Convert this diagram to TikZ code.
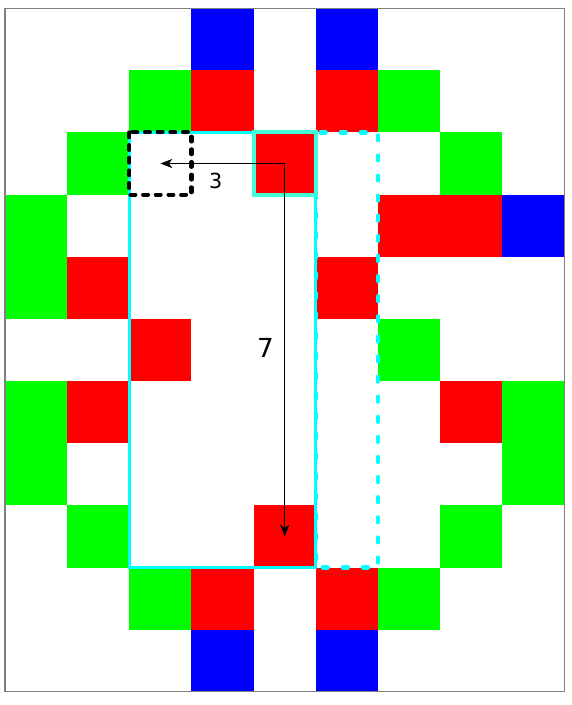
\documentclass[tikz,border=0pt]{standalone}
\usepackage{fontspec}
\setmainfont{DejaVu Sans}
\usetikzlibrary{arrows.meta}
\definecolor{cellred}{RGB}{255,0,0}
\definecolor{cellgreen}{RGB}{0,255,0}
\definecolor{cellblue}{RGB}{0,0,255}
\definecolor{boxcyan}{RGB}{0,255,255}
\definecolor{boxturq}{RGB}{64,255,216}
\tikzset{
  cellfill/.style={fill=#1},
  wincyan/.style={draw=boxcyan, line width=1.4pt},
  winspare/.style={draw=boxcyan, line width=2pt, line cap=round, dash pattern=on 2.2pt off 7pt},
  wincorner/.style={draw=black, line width=1.9pt, line cap=round, dash pattern=on 2.2pt off 3.6pt},
  wintarget/.style={draw=boxturq, line width=1.9pt},
  stepline/.style={draw=black, line width=0.45pt, -{Stealth[length=5.5pt, width=4.2pt, inset=1.6pt]}}
}
\begin{document}
\begin{tikzpicture}
      \useasboundingbox (-0.08,-0.21) rectangle (9.11,11.13);
      % cells: column/row-from-top
      \foreach \c/\r in {3/0,5/0,3/10,5/10,8/3}{
        \fill[cellfill=cellblue] (\c,11-\r) rectangle ++(1,-1);
      }
      \foreach \c/\r in {3/1,5/1,4/2,6/3,7/3,1/4,5/4,2/5,1/6,7/6,4/8,3/9,5/9}{
        \fill[cellfill=cellred] (\c,11-\r) rectangle ++(1,-1);
      }
      \foreach \c/\r in {2/1,6/1,1/2,7/2,0/3,0/4,6/5,0/6,8/6,0/7,8/7,1/8,7/8,2/9,6/9}{
        \fill[cellfill=cellgreen] (\c,11-\r) rectangle ++(1,-1);
      }
      \draw[gray, line width=0.5pt] (0,0) rectangle (9,11);
      % windows
      \draw[winspare] (5,9) rectangle (6,2);
      \draw[wincyan] (2,9) rectangle (5,2);
      \draw[wintarget] (4,9) rectangle (5,8);
      \draw[wincorner] (2,9) rectangle (3,8);
      % offsets
      \coordinate (S) at (4.5,8.5);
      \coordinate (L) at (2.5,8.5);
      \coordinate (D) at (4.5,2.5);
      \draw[stepline] (S) -- (L);
      \draw[stepline] (S) -- (D);
      \node[font=\fontsize{9.5}{11}\selectfont] (n3) at (3.39,8.22) {3};
      \node[font=\fontsize{12}{14}\selectfont] (n7) at (4.19,5.53) {7};
    \end{tikzpicture}
\end{document}
